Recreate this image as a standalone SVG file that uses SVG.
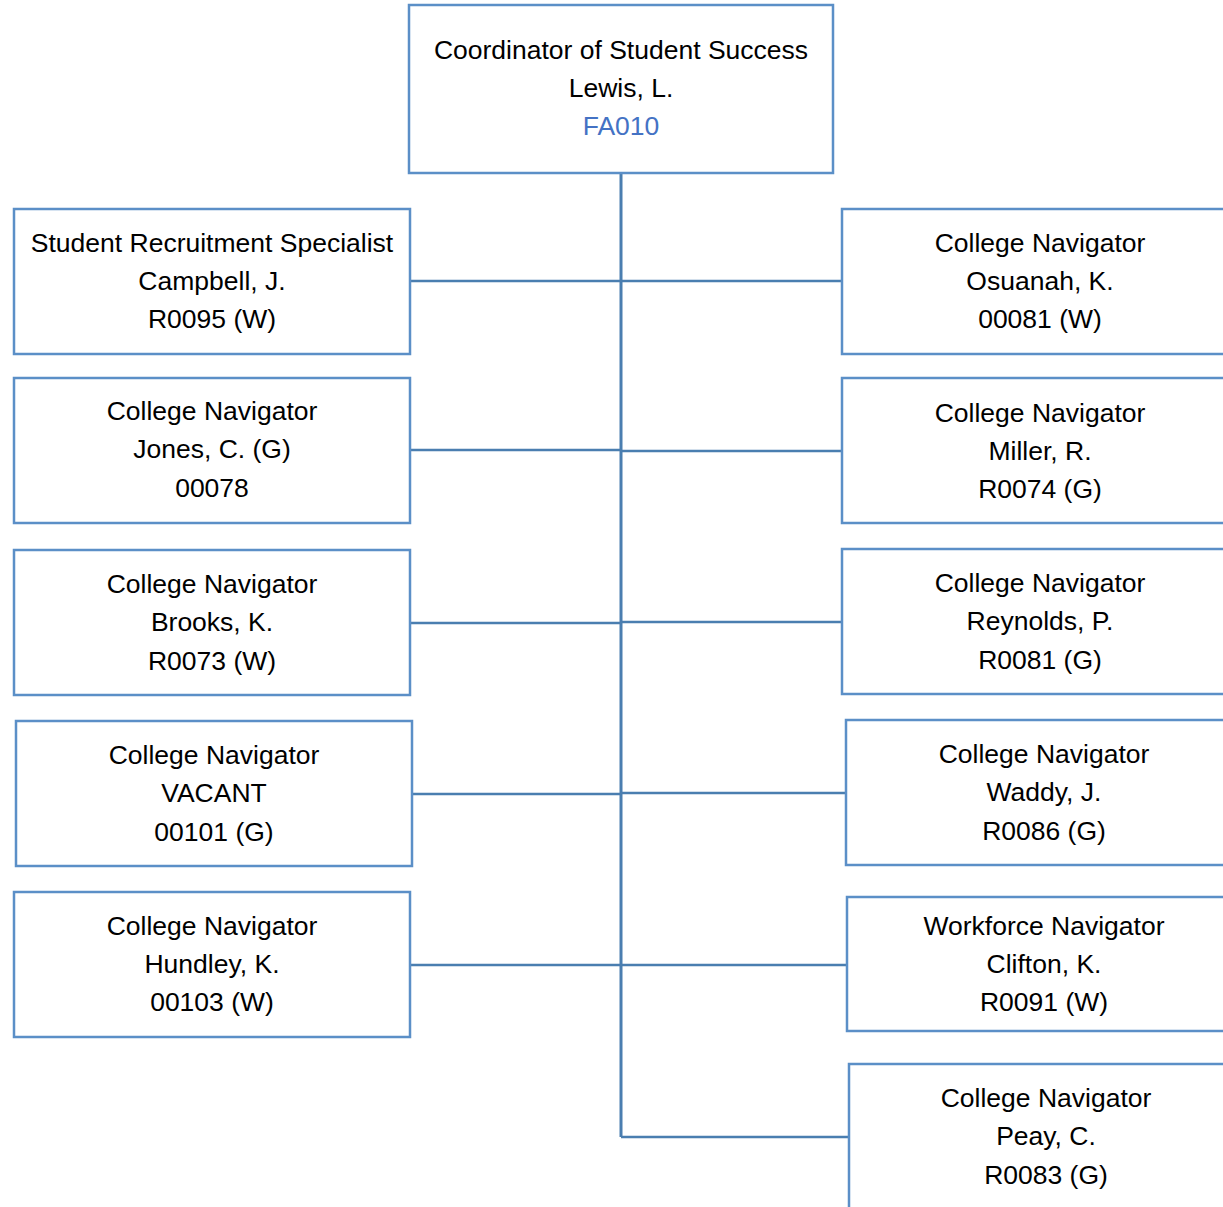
<svg xmlns="http://www.w3.org/2000/svg" width="1223" height="1207" viewBox="0 0 1223 1207">
<style>
.box{fill:#ffffff;stroke:#5b8fc7;stroke-width:2.5}
.t{font-family:"Liberation Sans",Arial,sans-serif;font-size:26.5px;fill:#000;text-anchor:middle}
.b{fill:#4472c4}
.c{stroke:#4a7eb0;stroke-width:2.5;fill:none}
.trunk{stroke:#4a7eb0;stroke-width:3;fill:none}
</style>
<rect width="1223" height="1207" fill="#ffffff"/>
<g id="connectors">
<line class="trunk" x1="621" y1="173" x2="621" y2="1137"/>
<line class="c" x1="410" y1="281" x2="842" y2="281"/>
<line class="c" x1="410" y1="450" x2="621" y2="450"/>
<line class="c" x1="621" y1="451" x2="842" y2="451"/>
<line class="c" x1="410" y1="623" x2="621" y2="623"/>
<line class="c" x1="621" y1="622" x2="842" y2="622"/>
<line class="c" x1="412" y1="794" x2="621" y2="794"/>
<line class="c" x1="621" y1="793" x2="846" y2="793"/>
<line class="c" x1="410" y1="965" x2="847" y2="965"/>
<polyline class="c" points="621,1137 849,1137"/>
</g>
<g id="top">
<rect class="box" x="409" y="5" width="424" height="168"/>
<text class="t" x="621" y="59">Coordinator of Student Success</text>
<text class="t" x="621" y="97">Lewis, L.</text>
<text class="t b" x="621" y="135">FA010</text>
</g>
<g id="l1">
<rect class="box" x="14" y="209" width="396" height="145"/>
<text class="t" x="212" y="252">Student Recruitment Specialist</text>
<text class="t" x="212" y="290">Campbell, J.</text>
<text class="t" x="212" y="328">R0095 (W)</text>
</g>
<g id="l2">
<rect class="box" x="14" y="378" width="396" height="145"/>
<text class="t" x="212" y="420">College Navigator</text>
<text class="t" x="212" y="458">Jones, C. (G)</text>
<text class="t" x="212" y="497">00078</text>
</g>
<g id="l3">
<rect class="box" x="14" y="550" width="396" height="145"/>
<text class="t" x="212" y="593">College Navigator</text>
<text class="t" x="212" y="631">Brooks, K.</text>
<text class="t" x="212" y="670">R0073 (W)</text>
</g>
<g id="l4">
<rect class="box" x="16" y="721" width="396" height="145"/>
<text class="t" x="214" y="764">College Navigator</text>
<text class="t" x="214" y="802">VACANT</text>
<text class="t" x="214" y="841">00101 (G)</text>
</g>
<g id="l5">
<rect class="box" x="14" y="892" width="396" height="145"/>
<text class="t" x="212" y="935">College Navigator</text>
<text class="t" x="212" y="973">Hundley, K.</text>
<text class="t" x="212" y="1011">00103 (W)</text>
</g>
<g id="r1">
<rect class="box" x="842" y="209" width="396" height="145"/>
<text class="t" x="1040" y="252">College Navigator</text>
<text class="t" x="1040" y="290">Osuanah, K.</text>
<text class="t" x="1040" y="328">00081 (W)</text>
</g>
<g id="r2">
<rect class="box" x="842" y="378" width="396" height="145"/>
<text class="t" x="1040" y="422">College Navigator</text>
<text class="t" x="1040" y="460">Miller, R.</text>
<text class="t" x="1040" y="498">R0074 (G)</text>
</g>
<g id="r3">
<rect class="box" x="842" y="549" width="396" height="145"/>
<text class="t" x="1040" y="592">College Navigator</text>
<text class="t" x="1040" y="630">Reynolds, P.</text>
<text class="t" x="1040" y="669">R0081 (G)</text>
</g>
<g id="r4">
<rect class="box" x="846" y="720" width="396" height="145"/>
<text class="t" x="1044" y="763">College Navigator</text>
<text class="t" x="1044" y="801">Waddy, J.</text>
<text class="t" x="1044" y="840">R0086 (G)</text>
</g>
<g id="r5">
<rect class="box" x="847" y="897" width="396" height="134"/>
<text class="t" x="1044" y="935">Workforce Navigator</text>
<text class="t" x="1044" y="973">Clifton, K.</text>
<text class="t" x="1044" y="1011">R0091 (W)</text>
</g>
<g id="r6">
<rect class="box" x="849" y="1064" width="396" height="160"/>
<text class="t" x="1046" y="1107">College Navigator</text>
<text class="t" x="1046" y="1145">Peay, C.</text>
<text class="t" x="1046" y="1184">R0083 (G)</text>
</g>
</svg>
